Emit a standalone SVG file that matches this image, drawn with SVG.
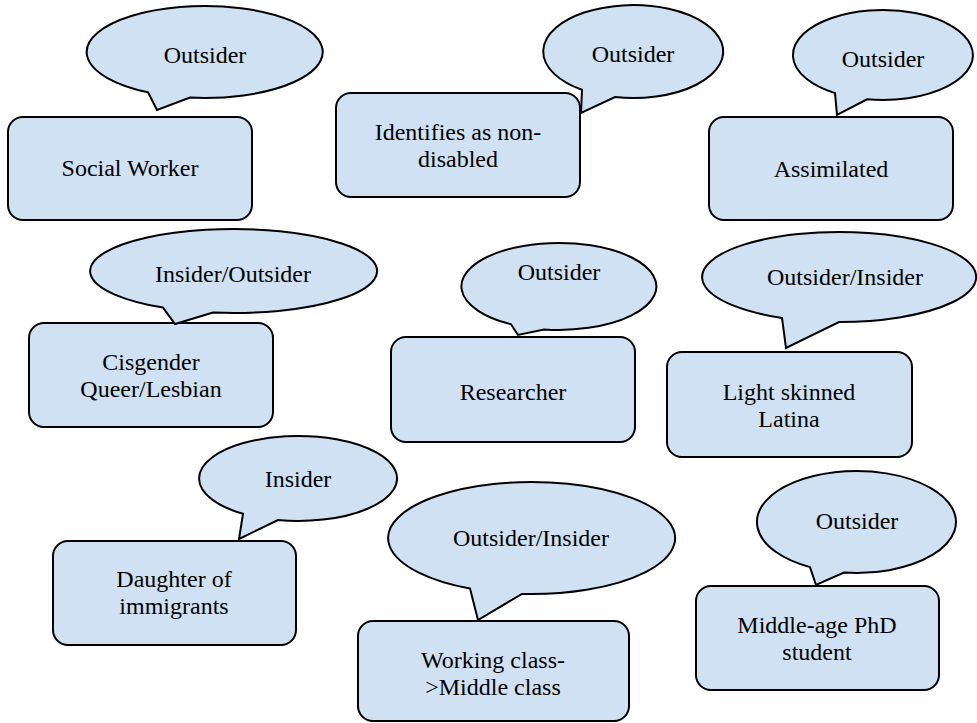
<svg xmlns="http://www.w3.org/2000/svg" width="977" height="723" viewBox="0 0 977 723">
<style>
.box{fill:#cfe1f2;stroke:#000;stroke-width:2}
.bub{fill:#cfe1f2;stroke:#000;stroke-width:2;stroke-linejoin:miter}
text{font-family:'Liberation Serif','Times New Roman',Times,serif;font-size:24px;fill:#000;text-anchor:middle}
</style>
<rect width="977" height="723" fill="#fff"/>
<g font-family="Liberation Serif" font-size="24">
<g id="node-social-worker">
<rect class="box" x="8" y="117" width="244" height="103" rx="15"/>
<path class="bub" d="M148,92.3 L157,110 L190,97.6 A118,46 0 1 0 148,92.3 Z"/>
<text x="205" y="63">Outsider</text>
<text x="130" y="176">Social Worker</text>
</g>
<g id="node-non-disabled">
<rect class="box" x="336" y="93" width="244" height="104" rx="15"/>
<path class="bub" d="M582,89.8 L581,113 L615,97.1 A90,46.5 0 1 0 582,89.8 Z"/>
<text x="633" y="62">Outsider</text>
<text x="458" y="140">Identifies as non-</text>
<text x="458" y="167">disabled</text>
</g>
<g id="node-assimilated">
<rect class="box" x="709" y="117" width="244" height="103" rx="15"/>
<path class="bub" d="M835,93.1 L837,115 L867,99.3 A90,45 0 1 0 835,93.1 Z"/>
<text x="883" y="67">Outsider</text>
<text x="831" y="177">Assimilated</text>
</g>
<g id="node-cisgender">
<rect class="box" x="29" y="323" width="244" height="104" rx="15"/>
<path class="bub" d="M163,307.6 L175,324 L213,312.6 A143.5,42 0 1 0 163,307.6 Z"/>
<text x="233" y="282">Insider/Outsider</text>
<text x="151" y="370">Cisgender</text>
<text x="151" y="397">Queer/Lesbian</text>
</g>
<g id="node-researcher">
<rect class="box" x="391" y="337" width="244" height="105" rx="15"/>
<path class="bub" d="M511,324.3 L518,335 L544,329.4 A97.5,43.5 0 1 0 511,324.3 Z"/>
<text x="559" y="280">Outsider</text>
<text x="513" y="400">Researcher</text>
</g>
<g id="node-latina">
<rect class="box" x="667" y="352" width="245" height="105" rx="15"/>
<path class="bub" d="M782,317.9 L786,348 L839,322 A137,45 0 1 0 782,317.9 Z"/>
<text x="845" y="285">Outsider/Insider</text>
<text x="789" y="400">Light skinned</text>
<text x="789" y="427">Latina</text>
</g>
<g id="node-daughter">
<rect class="box" x="53" y="541" width="243" height="104" rx="15"/>
<path class="bub" d="M243,513.8 L239,539 L278,520.1 A99,42.5 0 1 0 243,513.8 Z"/>
<text x="298" y="487">Insider</text>
<text x="174" y="587">Daughter of</text>
<text x="174" y="614">immigrants</text>
</g>
<g id="node-working-class">
<rect class="box" x="358" y="621" width="271" height="100" rx="15"/>
<path class="bub" d="M470,588.6 L478,620 L522,593.9 A143.5,56 0 1 0 470,588.6 Z"/>
<text x="531" y="546">Outsider/Insider</text>
<text x="493" y="668">Working class-</text>
<text x="493" y="695">&gt;Middle class</text>
</g>
<g id="node-phd">
<rect class="box" x="696" y="586" width="243" height="104" rx="15"/>
<path class="bub" d="M810,567.1 L816,585 L844,572.6 A99.5,51 0 1 0 810,567.1 Z"/>
<text x="857" y="529">Outsider</text>
<text x="817" y="633">Middle-age PhD</text>
<text x="817" y="660">student</text>
</g>
</g>
</svg>
